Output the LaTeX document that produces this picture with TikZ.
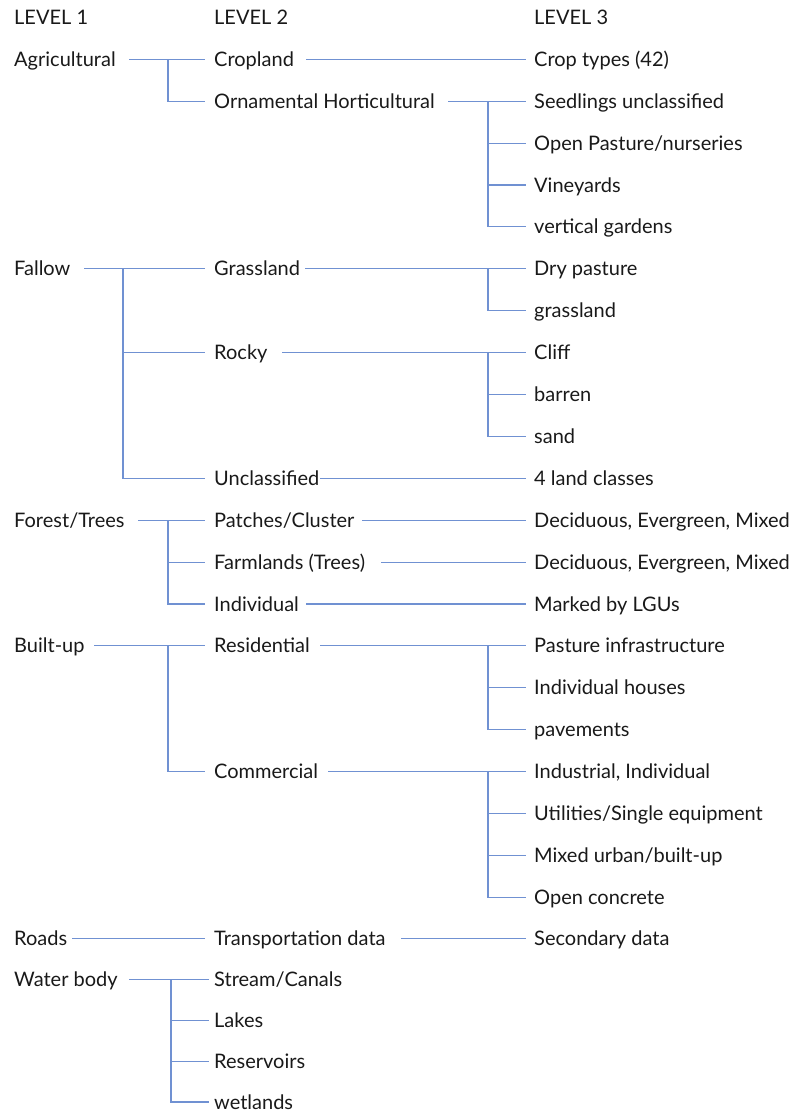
\documentclass[tikz,border=0pt]{standalone}
\usepackage{fontspec}
\setmainfont{Lato}
\definecolor{linkblue}{RGB}{112,145,210}
\definecolor{ink}{RGB}{25,25,25}
\begin{document}
\begin{tikzpicture}[x=1pt,y=-1pt,
  lbl/.style={anchor=west,inner sep=0pt,text height=14pt,text depth=0pt,font=\fontsize{20}{21}\selectfont,text=ink},
  link/.style={draw=linkblue,line width=1.1pt}]
\useasboundingbox (0,0) rectangle (798,1112);
% column helpers
\coordinate (e2) at (205,0);
\coordinate (e2w) at (209,0);
\coordinate (e3) at (526,0);
\coordinate (b1) at (168,0);
\coordinate (b1f) at (123,0);
\coordinate (b1w) at (171,0);
\coordinate (b2) at (488,0);
% headers
\node[lbl] (h1) at (14,17.4) {LEVEL 1};
\node[lbl] (h2) at (214,17.4) {LEVEL 2};
\node[lbl] (h3) at (534,17.4) {LEVEL 3};
% level 1
\node[lbl] (agr) at (14,59.3) {Agricultural};
\node[lbl] (fal) at (14,268.8) {Fallow};
\node[lbl] (for) at (14,520.2) {Forest/Trees};
\node[lbl] (bui) at (14,645.9) {Built-up};
\node[lbl] (roa) at (14,938.7) {Roads};
\node[lbl] (wat) at (14,979.3) {Water body};
% level 2
\node[lbl] (crop) at (214,59.3) {Cropland};
\node[lbl] (orn) at (214,101.2) {Ornamental Horticultural};
\node[lbl] (gra) at (214,268.8) {Grassland};
\node[lbl] (roc) at (214,352.6) {Rocky};
\node[lbl] (unc) at (214,478.3) {Unclassified};
\node[lbl] (pat) at (214,520.2) {Patches/Cluster};
\node[lbl] (far) at (214,562.1) {Farmlands (Trees)};
\node[lbl] (ind) at (214,604.0) {Individual};
\node[lbl] (res) at (214,645.9) {Residential};
\node[lbl] (com) at (214,771.6) {Commercial};
\node[lbl] (tra) at (214,938.7) {Transportation data};
\node[lbl] (str) at (214,979.3) {Stream/Canals};
\node[lbl] (lak) at (214,1020.3) {Lakes};
\node[lbl] (rsv) at (214,1061.3) {Reservoirs};
\node[lbl] (wet) at (214,1102.0) {wetlands};
% level 3
\node[lbl] (ct) at (534,59.3) {Crop types (42)};
\node[lbl] (seed) at (534,101.2) {Seedlings unclassified};
\node[lbl] (opn) at (534,143.1) {Open Pasture/nurseries};
\node[lbl] (vin) at (534,185.0) {Vineyards};
\node[lbl] (vert) at (534,226.9) {vertical gardens};
\node[lbl] (dry) at (534,268.8) {Dry pasture};
\node[lbl] (grs) at (534,310.7) {grassland};
\node[lbl] (cli) at (534,352.6) {Cliff};
\node[lbl] (bar) at (534,394.5) {barren};
\node[lbl] (san) at (534,436.4) {sand};
\node[lbl] (flc) at (534,478.3) {4 land classes};
\node[lbl] (dec1) at (534,520.2) {Deciduous, Evergreen, Mixed};
\node[lbl] (dec2) at (534,562.1) {Deciduous, Evergreen, Mixed};
\node[lbl] (mar) at (534,604.0) {Marked by LGUs};
\node[lbl] (pin) at (534,645.9) {Pasture infrastructure};
\node[lbl] (ihs) at (534,687.8) {Individual houses};
\node[lbl] (pav) at (534,729.7) {pavements};
\node[lbl] (inl) at (534,771.6) {Industrial, Individual};
\node[lbl] (uti) at (534,813.5) {Utilities/Single equipment};
\node[lbl] (mix) at (534,855.4) {Mixed urban/built-up};
\node[lbl] (opc) at (534,897.3) {Open concrete};
\node[lbl] (sec) at (534,938.7) {Secondary data};
% connector start points
\coordinate (agr-s) at (129,59.3);
\coordinate (fal-s) at (84,268.8);
\coordinate (for-s) at (138,520.2);
\coordinate (bui-s) at (94,645.9);
\coordinate (roa-s) at (72,938.7);
\coordinate (wat-s) at (129,979.3);
\coordinate (crop-s) at (306,59.3);
\coordinate (orn-s) at (448,101.2);
\coordinate (gra-s) at (305,268.8);
\coordinate (roc-s) at (282,352.6);
\coordinate (unc-s) at (320,478.3);
\coordinate (pat-s) at (362,520.2);
\coordinate (far-s) at (381,562.1);
\coordinate (ind-s) at (306,604.0);
\coordinate (res-s) at (320,645.9);
\coordinate (com-s) at (328,771.6);
\coordinate (tra-s) at (401,938.7);
% level 1 -> level 2
\draw[link] (agr-s) -- (crop.west -| e2);
\draw[link] (agr.east -| b1) |- (orn.west -| e2);
\draw[link] (fal-s) -- (gra.west -| e2);
\draw[link] (fal.east -| b1f) |- (roc.west -| e2);
\draw[link] (fal.east -| b1f) |- (unc.west -| e2);
\draw[link] (for-s) -- (pat.west -| e2);
\draw[link] (for.east -| b1) |- (far.west -| e2);
\draw[link] (for.east -| b1) |- (ind.west -| e2);
\draw[link] (bui-s) -- (res.west -| e2);
\draw[link] (bui.east -| b1) |- (com.west -| e2);
\draw[link] (roa-s) -- (tra.west -| e2);
\draw[link] (wat-s) -- (str.west -| e2w);
\draw[link] (wat.east -| b1w) |- (lak.west -| e2w);
\draw[link] (wat.east -| b1w) |- (rsv.west -| e2w);
\draw[link] (wat.east -| b1w) |- (wet.west -| e2w);
% level 2 -> level 3
\draw[link] (crop-s) -- (ct.west -| e3);
\draw[link] (orn-s) -- (seed.west -| e3);
\draw[link] (seed.west -| b2) |- (opn.west -| e3);
\draw[link] (seed.west -| b2) |- (vin.west -| e3);
\draw[link] (seed.west -| b2) |- (vert.west -| e3);
\draw[link] (gra-s) -- (dry.west -| e3);
\draw[link] (dry.west -| b2) |- (grs.west -| e3);
\draw[link] (roc-s) -- (cli.west -| e3);
\draw[link] (cli.west -| b2) |- (bar.west -| e3);
\draw[link] (cli.west -| b2) |- (san.west -| e3);
\draw[link] (unc-s) -- (flc.west -| e3);
\draw[link] (pat-s) -- (dec1.west -| e3);
\draw[link] (far-s) -- (dec2.west -| e3);
\draw[link] (ind-s) -- (mar.west -| e3);
\draw[link] (res-s) -- (pin.west -| e3);
\draw[link] (pin.west -| b2) |- (ihs.west -| e3);
\draw[link] (pin.west -| b2) |- (pav.west -| e3);
\draw[link] (com-s) -- (inl.west -| e3);
\draw[link] (inl.west -| b2) |- (uti.west -| e3);
\draw[link] (inl.west -| b2) |- (mix.west -| e3);
\draw[link] (inl.west -| b2) |- (opc.west -| e3);
\draw[link] (tra-s) -- (sec.west -| e3);
\end{tikzpicture}
\end{document}
